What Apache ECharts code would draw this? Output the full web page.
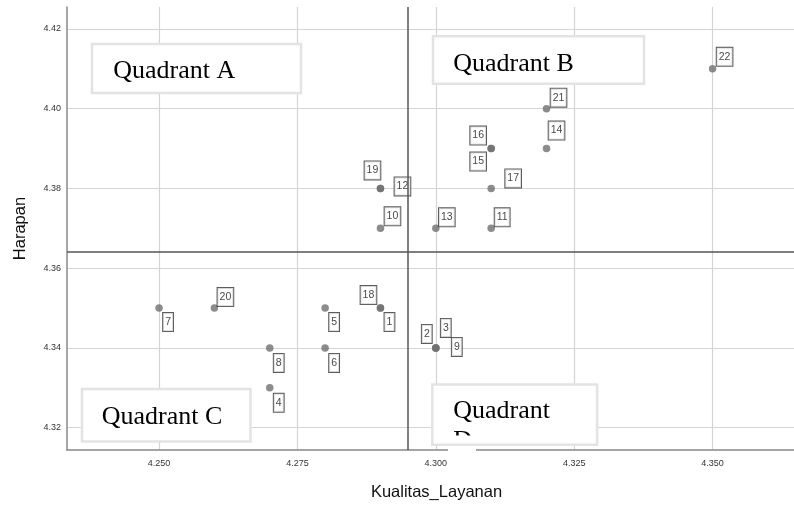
<!DOCTYPE html>
<html><head><meta charset="utf-8">
<script src="https://cdn.jsdelivr.net/npm/echarts@6/dist/echarts.min.js"></script>
<style>html,body{margin:0;padding:0;background:#fff}#c{width:794px;height:506px}</style>
</head><body><div id="c"></div>
<script>
// ---- data ----
const ids = ['1','2','3','4','5','6','7','8','9','10','11','12','13','14','15','16','17','18','19','20','21','22'];
const kualitas = [4.29,4.30,4.30,4.27,4.28,4.28,4.25,4.27,4.30,4.29,4.31,4.29,4.30,4.32,4.31,4.31,4.31,4.29,4.29,4.26,4.32,4.35];
const harapan  = [4.35,4.34,4.34,4.33,4.35,4.34,4.35,4.34,4.34,4.37,4.37,4.38,4.37,4.39,4.39,4.39,4.38,4.35,4.38,4.35,4.40,4.41];
const xTicks = [4.250, 4.275, 4.300, 4.325, 4.350];
const yTicks = [4.32, 4.34, 4.36, 4.38, 4.40, 4.42];
const meanKualitas = 4.2949;
const meanHarapan = 4.3640;
const xName = 'Kualitas_Layanan';
const yName = 'Harapan';
const quadrantNames = ['Quadrant A', 'Quadrant B', 'Quadrant C', 'Quadrant'];
const quadrantNameD2 = 'D';

// ---- layout (label box offsets, px, relative to point) ----
const labelOffsets = {
  '1':[9,14],'2':[-9,-14],'3':[10,-20],'4':[9,15],'5':[9,14],'6':[9,15],'7':[9,14],'8':[9,15],
  '9':[21,-1],'10':[12,-12],'11':[11,-11],'12':[22,-2],'13':[11,-11],'14':[10,-18],'15':[-13,13],
  '16':[-13,-13],'17':[22,-10],'18':[-12,-13],'19':[-8,-18],'20':[11,-11],'21':[12,-11],'22':[12,-12]
};

const chart = echarts.init(document.getElementById('c'), null, {renderer:'canvas'});

const pts = ids.map((id, i) => ({
  name: id,
  value: [kualitas[i], harapan[i]],
  label: { offset: labelOffsets[id] }
}));

const serif = '26px "Liberation Serif", "Times New Roman", serif';
function box(x, y, w, h, fill, stroke) {
  return { type: 'rect', z: 50, shape: { x: x, y: y, width: w, height: h },
    style: { fill: fill, stroke: stroke, lineWidth: 2.5 }, silent: true };
}
function txt(t, x, y, z) {
  return { type: 'text', z: z || 51, x: x, y: y,
    style: { text: t, font: serif, fill: '#000', align: 'left', verticalAlign: 'middle' }, silent: true };
}

const option = {
  animation: false,
  backgroundColor: '#fff',
  grid: { left: 67, right: 0, top: 7, bottom: 54, containLabel: false },
  xAxis: {
    type: 'value', min: 4.23337, max: 4.36471,
    name: xName, nameLocation: 'middle', nameGap: 34,
    nameTextStyle: { fontFamily: 'Liberation Sans, Arial', fontSize: 16.5, color: '#111', padding: [0,0,0,12] },
    axisLine: { show: true, onZero: false, lineStyle: { color: '#888', width: 1.5 } },
    axisTick: { show: false, customValues: xTicks },
    axisLabel: { customValues: xTicks, formatter: v => v.toFixed(3), fontSize: 9, color: '#333', margin: 9,
      fontFamily: 'Liberation Sans, Arial' },
    splitLine: { show: true, lineStyle: { color: '#d4d4d4', width: 1.2 } }
  },
  yAxis: {
    type: 'value', min: 4.3144, max: 4.4255,
    name: yName, nameLocation: 'middle', nameGap: 38, nameRotate: 90,
    nameTextStyle: { fontFamily: 'Liberation Sans, Arial', fontSize: 16.5, color: '#111' },
    axisLine: { show: true, onZero: false, lineStyle: { color: '#888', width: 1.5 } },
    axisTick: { show: false, customValues: yTicks },
    axisLabel: { customValues: yTicks, formatter: v => v.toFixed(2), fontSize: 9, color: '#333', margin: 6,
      fontFamily: 'Liberation Sans, Arial' },
    splitLine: { show: true, lineStyle: { color: '#d4d4d4', width: 1.2 } }
  },
  series: [{
    type: 'scatter',
    symbolSize: 7.5,
    itemStyle: { color: '#6f6f6f' },
    data: pts,
    label: {
      show: true, position: 'inside', formatter: '{b}',
      fontSize: 10.5, fontFamily: 'Liberation Sans, Arial', color: '#111', lineHeight: 10,
      backgroundColor: '#fff', borderColor: '#333', borderWidth: 1, padding: [4, 2, 4, 2]
    },
    markLine: {
      silent: true, symbol: 'none', animation: false, precision: 6,
      lineStyle: { color: '#555', width: 1.5, type: 'solid' },
      label: { show: false },
      data: [{ xAxis: meanKualitas }, { yAxis: meanHarapan }]
    }
  }],
  graphic: [
    box(92, 44, 209, 49, '#fff', '#e3e3e3'), txt(quadrantNames[0], 113.3, 71.5),
    box(433, 36.3, 211, 47.5, '#fff', '#e3e3e3'), txt(quadrantNames[1], 453.3, 63.8),
    box(82, 389, 168.5, 52.5, '#fff', '#e3e3e3'), txt(quadrantNames[2], 101.7, 417.2),
    box(432.3, 384.6, 164.8, 60.2, '#fff', null), txt(quadrantNames[3], 453.3, 411.2),
    txt(quadrantNameD2, 453.3, 441.2, 52),
    { type: 'rect', z: 53, shape: { x: 448, y: 435.5, width: 28, height: 15.5 }, style: { fill: '#fff' }, silent: true },
    { type: 'rect', z: 54, shape: { x: 432.3, y: 384.6, width: 164.8, height: 60.2 },
      style: { fill: null, stroke: '#e3e3e3', lineWidth: 2.5 }, silent: true }
  ]
};
chart.setOption(option);
</script>
</body></html>
